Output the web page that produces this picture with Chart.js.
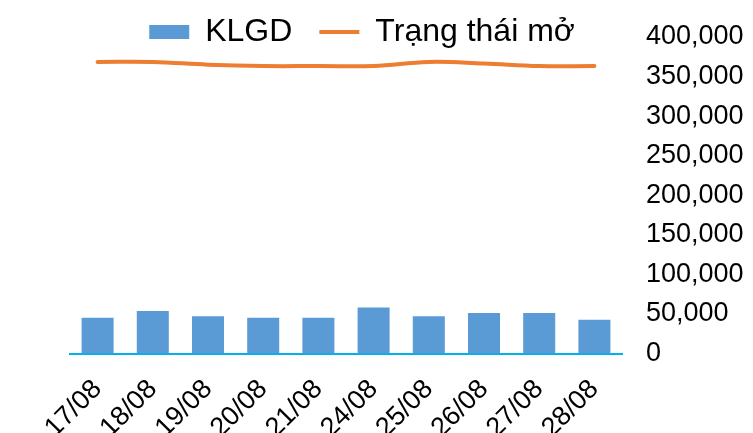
<!doctype html>
<html lang="vi">
    <head>
        <meta charset="UTF-8" />
        <title>KLGD - Trạng thái mở</title>
        <script src="https://cdn.jsdelivr.net/npm/chart.js"></script>
        <style>
            body { margin: 0; background: #fff; }
            #wrap { width: 753px; height: 433px; position: relative; }
        </style>
    </head>
    <body>
        <div id="wrap"><canvas id="chart1"></canvas></div>

        <script>
            // Dữ liệu
            const ngay = ["17/08", "18/08", "19/08", "20/08", "21/08", "24/08", "25/08", "26/08", "27/08", "28/08"];
            const klgd = [45300, 53700, 47000, 45300, 45300, 58000, 47000, 51200, 51200, 42800];
            const trangThaiMo = [368500, 368500, 365000, 363300, 363300, 363300, 368500, 366500, 363300, 363300];
            const yTicks = [0, 50000, 100000, 150000, 200000, 250000, 300000, 350000, 400000];

            Chart.defaults.font.family = "'Liberation Sans', Arial, sans-serif";
            Chart.defaults.color = "#000";

            // Chú thích nằm chồng lên vùng vẽ như bản gốc
            const legendPlace = {
                id: "legendPlace",
                beforeInit(chart) {
                    const legend = chart.legend;
                    const fit = legend.fit;
                    legend.fit = function () {
                        fit.call(this);
                        this.height = 0;
                    };
                },
                afterLayout(chart) {
                    const legend = chart.legend;
                    legend.top = -11;
                    legend.bottom = 60;
                    legend.left = 0;
                    legend.right = 724;
                },
            };

            new Chart(document.getElementById("chart1").getContext("2d"), {
                data: {
                    labels: ngay,
                    datasets: [
                        {
                            type: "line",
                            label: "Trạng thái mở",
                            data: trangThaiMo,
                            borderColor: "#ED7D31",
                            backgroundColor: "#ED7D31",
                            borderWidth: 4,
                            borderCapStyle: "round",
                            tension: 0.4,
                            pointRadius: 0,
                            pointStyle: "line",
                            order: 1,
                        },
                        {
                            type: "bar",
                            label: "KLGD",
                            data: klgd,
                            backgroundColor: "#5B9BD5",
                            pointStyle: "rect",
                            categoryPercentage: 1,
                            barPercentage: 0.58,
                            order: 2,
                        },
                    ],
                },
                options: {
                    responsive: true,
                    maintainAspectRatio: false,
                    animation: false,
                    layout: { padding: { top: 37, left: 70, right: 9, bottom: 0 } },
                    plugins: {
                        tooltip: { enabled: false },
                        legend: {
                            position: "top",
                            reverse: true,
                            labels: {
                                usePointStyle: true,
                                pointStyleWidth: 40,
                                boxHeight: 14,
                                padding: 27,
                                font: { size: 32 },
                                color: "#000",
                            },
                        },
                    },
                    scales: {
                        x: {
                            grid: { display: false, drawTicks: false },
                            border: { display: true, color: "#00B0F0", width: 2 },
                            ticks: {
                                font: { size: 27 },
                                minRotation: 45,
                                maxRotation: 45,
                                autoSkip: false,
                                padding: 20,
                            },
                            afterFit(scale) {
                                scale.height = 79.5;
                            },
                        },
                        y: {
                            position: "right",
                            min: 0,
                            max: 400000,
                            grid: { display: false, drawTicks: false },
                            border: { display: false },
                            afterBuildTicks(axis) {
                                axis.ticks = yTicks.map((v) => ({ value: v }));
                            },
                            afterFit(scale) {
                                scale.width = 122;
                                scale.paddingTop = 16;
                                scale.paddingBottom = 16;
                            },
                            ticks: {
                                font: { size: 27 },
                                padding: 24,
                                callback: (v) => v.toLocaleString("en-US"),
                            },
                        },
                    },
                },
                plugins: [legendPlace],
            });
        </script>
    </body>
</html>
